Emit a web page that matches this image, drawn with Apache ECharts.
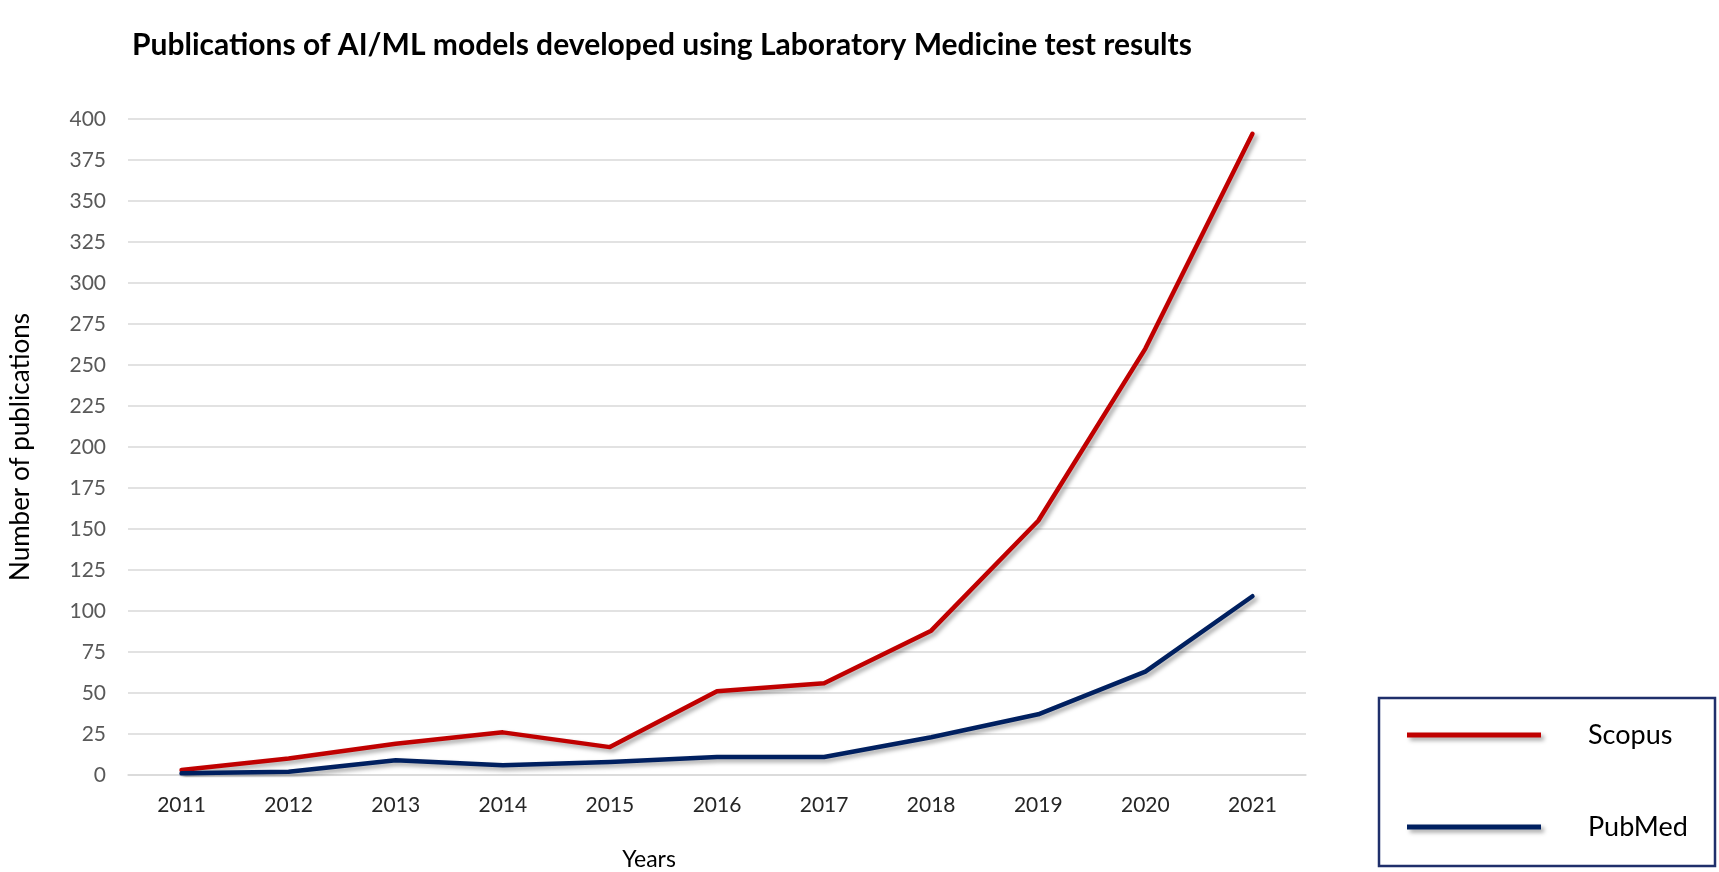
<!DOCTYPE html>
<html>
<head>
<meta charset="utf-8">
<script src="https://cdn.jsdelivr.net/npm/echarts@6/dist/echarts.min.js"></script>
<style>
html,body{margin:0;padding:0;background:#fff;}
#chart{width:1719px;height:872px;}
</style>
</head>
<body>
<div id="chart"></div>
<script>
const years = ['2011','2012','2013','2014','2015','2016','2017','2018','2019','2020','2021'];
const scopus = [3, 10, 19, 26, 17, 51, 56, 88, 155, 260, 391];
const pubmed = [1, 2, 9, 6, 8, 11, 11, 23, 37, 63, 109];
const seriesNames = ['Scopus', 'PubMed'];
const seriesColors = ['#C00000', '#002060'];
const titleText = 'Publications of AI/ML models developed using Laboratory Medicine test results';
const xAxisTitle = 'Years';
const yAxisTitle = 'Number of publications';

const chart = echarts.init(document.getElementById('chart'));
const shadow = {shadowColor:'rgba(0,0,0,0.35)', shadowBlur:4, shadowOffsetX:3, shadowOffsetY:3};
chart.setOption({
  animation:false,
  backgroundColor:'#ffffff',
  title:{
    text:titleText, left:127, top:25,
    textStyle:{fontFamily:'Lato', fontWeight:'bold', fontSize:30, color:'#000'}
  },
  grid:{left:110, right:413, top:119, bottom:97, containLabel:false},
  xAxis:{
    type:'category', data:years, boundaryGap:true,
    axisLine:{show:true, lineStyle:{color:'#d9d9d9', width:1.5}},
    axisTick:{show:false},
    axisLabel:{color:'#262626', fontFamily:'Lato', fontSize:21, margin:20}
  },
  yAxis:{
    type:'value', min:0, max:400, interval:25,
    name:yAxisTitle, nameLocation:'middle', nameGap:94,
    nameTextStyle:{fontFamily:'Lato', fontSize:26, color:'#000'},
    axisLine:{show:false}, axisTick:{show:false},
    axisLabel:{color:'#595959', fontFamily:'Lato', fontSize:21, margin:22},
    splitLine:{lineStyle:{color:'#d9d9d9', width:1.5}}
  },
  legend:{
    orient:'vertical', left:1402, top:711,
    icon:'rect', itemWidth:134, itemHeight:5, itemGap:54,
    data:seriesNames,
    itemStyle:Object.assign({}, shadow),
    textStyle:{fontFamily:'Lato', fontSize:27, color:'#000', lineHeight:38, padding:[0,0,0,42]}
  },
  graphic:[
    {type:'rect', shape:{x:1379, y:698, width:336, height:168},
     style:{fill:'none', stroke:'#1F2F6B', lineWidth:2.5}, z:100},
    {type:'text', x:649, y:860, style:{text:xAxisTitle, fontFamily:'Lato', fontSize:23, fill:'#000', align:'center', verticalAlign:'middle'}}
  ],
  series:[
    {name:seriesNames[0], type:'line', data:scopus, showSymbol:false, color:seriesColors[0],
     lineStyle:Object.assign({width:4.5, color:seriesColors[0], cap:'round', join:'round'}, shadow)},
    {name:seriesNames[1], type:'line', data:pubmed, showSymbol:false, color:seriesColors[1],
     lineStyle:Object.assign({width:4.5, color:seriesColors[1], cap:'round', join:'round'}, shadow)}
  ]
});
</script>
</body>
</html>
